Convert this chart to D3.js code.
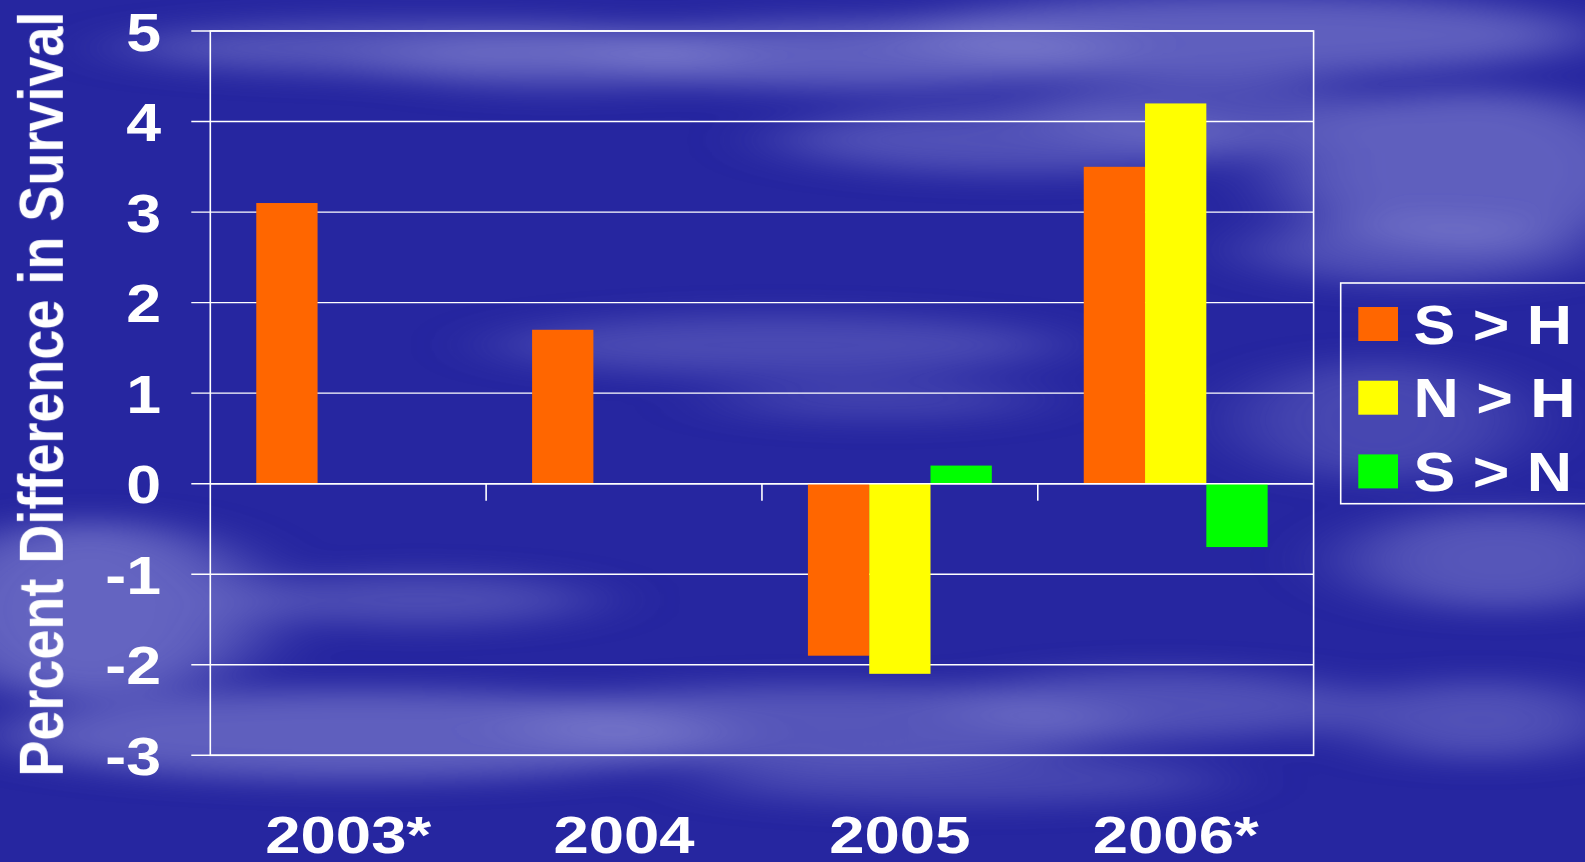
<!DOCTYPE html>
<html>
<head>
<meta charset="utf-8">
<script src="https://cdn.jsdelivr.net/npm/d3@7"></script>
<style>
  html, body { margin: 0; padding: 0; background: #2727a0; overflow: hidden; }
  svg { display: block; }
  text { font-family: "Liberation Sans", Arial, sans-serif; font-weight: bold; fill: #ffffff; }
</style>
</head>
<body>
<svg id="chart" width="1585" height="862"></svg>
<script>
// ---- data ----
const years = ["2003*", "2004", "2005", "2006*"];
const seriesNames = ["S > H", "N > H", "S > N"];
const seriesColors = ["#ff6600", "#ffff00", "#00ff00"];
// values per year, in series order (null = no bar)
const sOverH = [3.1, 1.7, -1.9, 3.5];
const nOverH = [null, null, -2.1, 4.2];
const sOverN = [null, null, 0.2, -0.7];
const yTicks = [-3, -2, -1, 0, 1, 2, 3, 4, 5];
const yLabel = "Percent Difference in Survival";

const seriesValues = [sOverH, nOverH, sOverN];

// ---- layout ----
const W = 1585, H = 862;
const plot = { left: 210.3, right: 1313.6, top: 31, bottom: 755.3 };
const SX = 1.16;   // horizontal stretch of lettering

const svg = d3.select("#chart");

// ---- cloudy blue backdrop ----
const defs = svg.append("defs");
defs.append("filter").attr("id", "haze")
  .attr("x", "-50%").attr("y", "-50%").attr("width", "200%").attr("height", "200%")
  .append("feGaussianBlur").attr("stdDeviation", "45 14");

svg.append("rect").attr("width", W).attr("height", H).attr("fill", "#2626a0");

// soft lighter streaks: [cx, cy, rx, ry, opacity]
const clouds = [
  [420, 48, 300, 26, 0.5], [860, 55, 260, 34, 0.6], [1250, 35, 340, 40, 0.6],
  [1470, 170, 190, 80, 0.6], [1020, 140, 240, 34, 0.45], [1500, 560, 150, 50, 0.5],
  [1480, 720, 130, 40, 0.45], [90, 610, 170, 90, 0.65], [360, 735, 360, 45, 0.6],
  [820, 725, 300, 40, 0.5], [1160, 705, 200, 35, 0.45], [780, 345, 280, 30, 0.38],
  [1380, 420, 140, 60, 0.35], [420, 600, 170, 26, 0.4], [560, 60, 180, 30, 0.4],
  [1420, 250, 170, 34, 0.45], [960, 780, 260, 25, 0.35], [1200, 110, 160, 40, 0.4],
  [880, 400, 160, 20, 0.3]
];
svg.append("g").attr("filter", "url(#haze)")
  .selectAll("ellipse").data(clouds).join("ellipse")
  .attr("cx", d => d[0]).attr("cy", d => d[1])
  .attr("rx", d => d[2]).attr("ry", d => d[3])
  .attr("fill", "#8686d2").attr("opacity", d => d[4]);

// ---- scales ----
const x0 = d3.scaleBand().domain(years).range([plot.left, plot.right]).padding(0);
const gap = x0.bandwidth() / 6;
const x1 = d3.scaleBand().domain(d3.range(seriesNames.length))
  .range([gap, x0.bandwidth() - gap]).padding(0);
const y = d3.scaleLinear().domain([-3, 5]).range([plot.bottom, plot.top]);

// ---- gridlines ----
const g = svg.append("g");
g.selectAll("line.grid").data(yTicks).join("line")
  .attr("class", "grid")
  .attr("x1", plot.left - 19).attr("x2", plot.right)
  .attr("y1", d => y(d)).attr("y2", d => y(d))
  .attr("stroke", "#ffffff").attr("stroke-width", 1.4);

// ---- bars ----
const barData = [];
years.forEach((yr, i) => {
  seriesValues.forEach((vals, s) => {
    if (vals[i] !== null) barData.push({ yr, s, v: vals[i] });
  });
});
g.selectAll("rect.bar").data(barData).join("rect")
  .attr("class", "bar")
  .attr("x", d => x0(d.yr) + x1(d.s))
  .attr("width", x1.bandwidth())
  .attr("y", d => y(Math.max(0, d.v)))
  .attr("height", d => Math.abs(y(d.v) - y(0)))
  .attr("fill", d => seriesColors[d.s]);

// ---- zero line, frame, category ticks ----
g.append("line")
  .attr("x1", plot.left).attr("x2", plot.right)
  .attr("y1", y(0)).attr("y2", y(0))
  .attr("stroke", "#ffffff").attr("stroke-width", 1.6);
g.append("rect")
  .attr("x", plot.left).attr("y", plot.top)
  .attr("width", plot.right - plot.left).attr("height", plot.bottom - plot.top)
  .attr("fill", "none").attr("stroke", "#ffffff").attr("stroke-width", 1.6);
g.selectAll("line.xtick").data(years.slice(1)).join("line")
  .attr("class", "xtick")
  .attr("x1", d => x0(d)).attr("x2", d => x0(d))
  .attr("y1", y(0)).attr("y2", y(0) + 17)
  .attr("stroke", "#ffffff").attr("stroke-width", 1.6);

// ---- y tick labels ----
svg.selectAll("text.ytick").data(yTicks).join("text")
  .attr("class", "ytick")
  .attr("text-anchor", "end")
  .attr("font-size", 54)
  .attr("transform", d => `translate(161,${y(d) + 19.5}) scale(${SX},1)`)
  .text(d => d);

// ---- x category labels ----
svg.selectAll("text.xlab").data(years).join("text")
  .attr("class", "xlab")
  .attr("text-anchor", "middle")
  .attr("font-size", 52)
  .attr("transform", d => `translate(${x0(d) + x0.bandwidth() / 2},853) scale(1.22,1)`)
  .text(d => d);

// ---- y axis title ----
svg.append("text")
  .attr("text-anchor", "middle")
  .attr("font-size", 54)
  .attr("transform", `translate(63.3,${(plot.top + plot.bottom) / 2 + 1}) scale(${SX},1) rotate(-90)`)
  .text(yLabel);

// ---- legend ----
const lg = svg.append("g");
lg.append("rect")
  .attr("x", 1340.7).attr("y", 283)
  .attr("width", 300).attr("height", 220.7)
  .attr("fill", "none").attr("stroke", "#ffffff").attr("stroke-width", 1.6);
const items = lg.selectAll("g.item").data(seriesNames).join("g")
  .attr("class", "item")
  .attr("transform", (d, i) => `translate(0,${324 + i * 73.7})`);
items.append("rect")
  .attr("x", 1358.3).attr("y", -17)
  .attr("width", 39.7).attr("height", 34)
  .attr("fill", (d, i) => seriesColors[i]);
items.append("text")
  .attr("font-size", 55)
  .attr("transform", `translate(1413.5,19.5) scale(1.14,1)`)
  .text(d => d);
</script>
</body>
</html>
